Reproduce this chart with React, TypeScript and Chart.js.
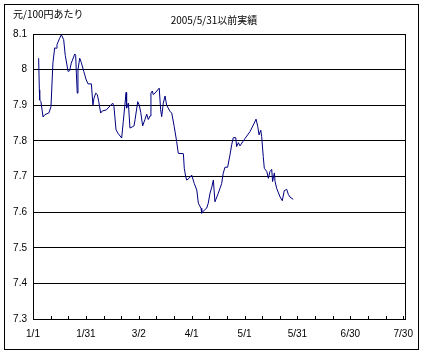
import { useEffect, useRef } from "react";
import { Chart, registerables } from "chart.js";

Chart.register(...registerables);

const unitLabel = "元/100円あたり";
const chartTitle = "2005/5/31以前実績";

// day offset from 1/1
const dayIndex = [
  3.2, 3.6, 3.8, 4.5, 5.7, 6.6, 9.1, 10.2, 11.3, 12.3, 13.2, 13.6, 15.1, 16.1, 17.4, 18.3,
  19.9, 20.8, 21.7, 23.7, 24.2, 24.6, 25.1, 25.5, 26.5, 27.4, 28.8, 30.2, 31.2, 33.1, 34.0,
  34.6, 35.6, 36.5, 37.3, 38.4, 39.3, 41.6, 45.2, 45.9, 47.1, 48.4, 50.3, 51.2, 52.8, 53.1,
  54.1, 55.0, 56.6, 57.3, 57.9, 59.4, 60.3, 61.1, 62.2, 63.5, 64.5, 65.4, 66.4, 66.9, 67.7,
  68.2, 69.2, 71.6, 72.4, 73.0, 73.9, 74.9, 75.8, 77.7, 78.7, 80.1, 81.5, 82.4, 85.3, 85.8,
  86.6, 87.2, 88.5, 90.0, 91.5, 92.9, 93.8, 95.3, 95.7, 96.6, 98.5, 99.4, 100.4, 101.4, 102.3,
  103.2, 105.1, 107.0, 107.9, 108.9, 110.4, 111.7, 112.7, 113.6, 115.0, 115.5, 116.5, 117.4,
  120.3, 123.1, 125.5, 126.5, 127.5, 128.2, 129.2, 129.7, 130.6, 131.2, 132.6, 133.5, 134.4,
  135.4, 135.9, 136.9, 137.3, 138.2, 140.1, 141.4, 142.5, 143.9, 144.8, 145.8, 147.6,
];

const rates = [
  8.032, 7.943, 7.915, 7.91, 7.867, 7.873, 7.879, 7.896, 8.019, 8.061, 8.06, 8.07, 8.088, 8.098, 8.084, 8.04,
  7.995, 7.997, 8.018, 8.044, 8.04, 7.99, 7.934, 8.0, 8.032, 8.02, 7.995, 7.971, 7.96, 7.96, 7.901,
  7.92, 7.934, 7.93, 7.91, 7.878, 7.884, 7.887, 7.906, 7.897, 7.831, 7.82, 7.808, 7.854, 7.936, 7.892,
  7.906, 7.836, 7.84, 7.842, 7.86, 7.91, 7.9, 7.88, 7.842, 7.86, 7.875, 7.86, 7.87, 7.934, 7.94,
  7.93, 7.934, 7.948, 7.887, 7.868, 7.906, 7.926, 7.9, 7.883, 7.878, 7.84, 7.798, 7.765, 7.764, 7.723,
  7.7, 7.69, 7.695, 7.704, 7.68, 7.662, 7.625, 7.611, 7.597, 7.603, 7.611, 7.625, 7.653, 7.67, 7.69,
  7.629, 7.653, 7.68, 7.709, 7.726, 7.726, 7.76, 7.789, 7.809, 7.809, 7.784, 7.795, 7.786,
  7.807, 7.826, 7.85, 7.861, 7.84, 7.817, 7.83, 7.812, 7.756, 7.723, 7.714, 7.695, 7.714,
  7.72, 7.686, 7.71, 7.686, 7.667, 7.643, 7.632, 7.66, 7.664, 7.65, 7.642, 7.636,
];

const xTickLabels = ["1/1", "1/31", "3/2", "4/1", "5/1", "5/31", "6/30", "7/30"];
const xMin = 0;
const xMax = 211;
const yMin = 7.3;
const yMax = 8.1;

const decorPlugin = {
  id: "decor",
  beforeDraw(chart: any) {
    const ctx = chart.ctx;
    ctx.save();
    ctx.fillStyle = "#ffffff";
    ctx.fillRect(0, 0, chart.width, chart.height);
    ctx.restore();
  },
  afterDraw(chart: any) {
    const ctx = chart.ctx;
    const { left, top, right, bottom } = chart.chartArea;
    ctx.save();
    ctx.strokeStyle = "#000000";
    ctx.lineWidth = 1;
    ctx.strokeRect(4.5, 4.5, 414, 345);
    ctx.strokeRect(Math.round(left) + 0.5, Math.round(top) + 0.5, Math.round(right - left), Math.round(bottom - top));
    const xs = chart.scales.x;
    ctx.beginPath();
    xs.ticks.forEach((t: any) => {
      const px = Math.round(xs.getPixelForValue(t.value)) + 0.5;
      ctx.moveTo(px, Math.round(bottom));
      ctx.lineTo(px, Math.round(bottom) - 3);
    });
    ctx.stroke();
    ctx.fillStyle = "#000000";
    ctx.font = "10px 'Noto Sans CJK JP', 'DejaVu Sans', sans-serif";
    ctx.textBaseline = "middle";
    ctx.textAlign = "left";
    ctx.fillText(unitLabel, 13, 14);
    ctx.textAlign = "center";
    ctx.fillText(chartTitle, 214, 20);
    ctx.restore();
  },
};

export default function App() {
  const ref = useRef<HTMLCanvasElement | null>(null);
  useEffect(() => {
    if (!ref.current) return;
    const chart = new Chart(ref.current, {
      type: "line",
      data: {
        datasets: [
          {
            data: dayIndex.map((d, i) => ({ x: d, y: rates[i] })),
            borderColor: "#000080",
            borderWidth: 1,
            pointRadius: 0,
            tension: 0,
            fill: false,
          },
        ],
      },
      options: {
        responsive: false,
        animation: false,
        devicePixelRatio: 1,
        layout: { padding: { left: 0, top: 34, right: 23, bottom: 0 } },
        plugins: {
          legend: { display: false },
          title: { display: false },
          tooltip: { enabled: false },
        },
        scales: {
          x: {
            type: "linear",
            min: xMin,
            max: xMax,
            afterFit(scale: any) {
              scale.height = 39;
            },
            afterBuildTicks(scale: any) {
              const t = [];
              for (let v = 0; v <= 210; v += 10) t.push({ value: v });
              scale.ticks = t;
            },
            grid: { display: false, drawTicks: false },
            border: { display: true, color: "#000000" },
            ticks: {
              autoSkip: false,
              maxRotation: 0,
              padding: 9,
              color: "#000000",
              font: { family: "'Liberation Sans', Arial, sans-serif", size: 10 },
              callback: (v: any) => (Number(v) % 30 === 0 ? xTickLabels[Number(v) / 30] : ""),
            },
          },
          y: {
            min: yMin,
            max: yMax,
            afterFit(scale: any) {
              scale.width = 33;
            },
            grid: { color: "#000000", lineWidth: 1, drawTicks: false },
            border: { display: true, color: "#000000" },
            ticks: {
              stepSize: 0.1,
              padding: 6,
              color: "#000000",
              font: { family: "'Liberation Sans', Arial, sans-serif", size: 10 },
              callback: (v: any) => String(Number(Number(v).toFixed(1))),
            },
          },
        },
      },
      plugins: [decorPlugin],
    });
    return () => chart.destroy();
  }, []);
  return (
    <div style={{ position: "absolute", left: 0, top: 0, width: 428, height: 358 }}>
      <canvas ref={ref} width={428} height={358} style={{ width: 428, height: 358, display: "block" }} />
    </div>
  );
}
